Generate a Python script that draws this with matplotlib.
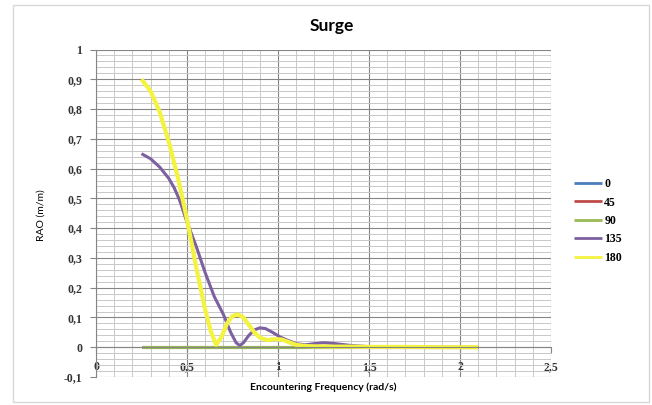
import numpy as np
import matplotlib
matplotlib.use("Agg")
import matplotlib.pyplot as plt
from matplotlib.ticker import FuncFormatter, MultipleLocator
from matplotlib.patches import Rectangle

# headings (deg) and their colours in the legend
headings = ["0", "45", "90", "135", "180"]
colors = ["#4a7ebb", "#be4b48", "#98b954", "#7d60a0", "#f3f340"]

# flat series (0, 45, 90 deg)
freq_flat = [0.25, 0.5, 1.0, 1.5, 2.0, 2.1]
rao_0 = [0, 0, 0, 0, 0, 0]
rao_45 = [0, 0, 0, 0, 0, 0]
rao_90 = [0, 0, 0, 0, 0, 0]

# 135 deg
freq_135 = [0.25, 0.30, 0.35, 0.40, 0.43, 0.46, 0.50, 0.55, 0.60, 0.65, 0.70, 0.74,
            0.77, 0.79, 0.81, 0.84, 0.87, 0.90, 0.93, 0.97, 1.01, 1.05, 1.10,
            1.15, 1.20, 1.25, 1.30, 1.40, 1.50, 1.70, 1.90, 2.10]
rao_135 = [0.65, 0.633, 0.605, 0.567, 0.535, 0.493, 0.42, 0.34, 0.25, 0.17, 0.11, 0.05,
           0.015, 0.006, 0.015, 0.04, 0.058, 0.065, 0.063, 0.05, 0.035, 0.024, 0.012,
           0.008, 0.012, 0.015, 0.013, 0.006, 0.002, 0.001, 0.0, 0.0]

# 180 deg
freq_180 = [0.25, 0.30, 0.35, 0.40, 0.45, 0.50, 0.55, 0.60, 0.63, 0.66, 0.69,
            0.72, 0.75, 0.78, 0.81, 0.84, 0.87, 0.90, 0.94, 0.98, 1.02, 1.06,
            1.10, 1.15, 1.20, 1.30, 1.40, 1.50, 1.70, 1.90, 2.10]
rao_180 = [0.90, 0.86, 0.79, 0.69, 0.57, 0.43, 0.27, 0.126, 0.055, 0.008, 0.035,
           0.08, 0.105, 0.11, 0.10, 0.075, 0.05, 0.032, 0.024, 0.027, 0.026, 0.017,
           0.008, 0.004, 0.003, 0.002, 0.002, 0.001, 0.001, 0.0, 0.0]

fig = plt.figure(figsize=(6.52, 4.05), dpi=100)
ax = fig.add_axes([96 / 652, 1 - 377 / 405, 455 / 652, 327.5 / 405])

# chart border
fig.patches.append(Rectangle((13 / 652, 3 / 405), 636 / 652, 397 / 405,
                             transform=fig.transFigure, fill=False,
                             edgecolor="#d8d8d8", lw=1))

series = [(freq_flat, rao_0), (freq_flat, rao_45), (freq_flat, rao_90),
          (freq_135, rao_135), (freq_180, rao_180)]
for (x, y), name, c in zip(series, headings, colors):
    lw = 3.0 if name == "180" else 2.2
    ax.plot(x, y, color=c, lw=lw, label=name, solid_capstyle="butt",
            solid_joinstyle="round")

ax.set_xlim(0, 2.5)
ax.set_ylim(-0.1, 1.0)
ax.xaxis.set_major_locator(MultipleLocator(0.5))
ax.xaxis.set_minor_locator(MultipleLocator(0.1))
ax.yaxis.set_major_locator(MultipleLocator(0.1))
ax.yaxis.set_minor_locator(MultipleLocator(0.02))
ax.grid(which="major", color="#858585", lw=0.8)
ax.grid(which="minor", color="#c8c8c8", lw=0.7)
ax.set_axisbelow(True)

fmt = FuncFormatter(lambda v, p: ("%g" % round(v, 2)).replace(".", ","))
ax.xaxis.set_major_formatter(fmt)
ax.yaxis.set_major_formatter(fmt)

for s in ["top", "right"]:
    ax.spines[s].set_visible(False)
ax.spines["bottom"].set_position(("data", 0))
ax.spines["bottom"].set_color("#858585")
ax.spines["left"].set_color("#858585")
ax.tick_params(axis="x", which="major", length=4, color="#858585", pad=6)
ax.tick_params(axis="y", which="major", length=4, color="#858585", pad=6)
ax.tick_params(which="minor", length=0)
for lab in ax.get_xticklabels() + ax.get_yticklabels():
    lab.set_fontfamily("Liberation Serif")
    lab.set_fontweight("bold")
    lab.set_fontsize(8.5)
    lab.set_color("#333333")

fig.text(332 / 652, 1 - 26 / 405, "Surge", ha="center", va="center",
         fontsize=12.5, fontweight="bold", family="Lato")
fig.text(323 / 652, 1 - 387 / 405, "Encountering Frequency (rad/s)",
         ha="center", va="center", fontsize=7.5, fontweight="bold", family="Lato")
fig.text(41 / 652, 1 - 215 / 405, "RAO (m/m)", ha="center", va="center",
         rotation=90, fontsize=7.5, family="Lato")

leg = ax.legend(loc="center left", bbox_to_anchor=(563 / 652, 1 - 221 / 405),
                bbox_transform=fig.transFigure, frameon=False, handlelength=2.4,
                handletextpad=0.2, labelspacing=0.55,
                prop={"family": "Liberation Serif", "weight": "bold", "size": 8.5})
for h in leg.get_lines():
    h.set_linewidth(2)

fig.savefig("out.png", dpi=100)
